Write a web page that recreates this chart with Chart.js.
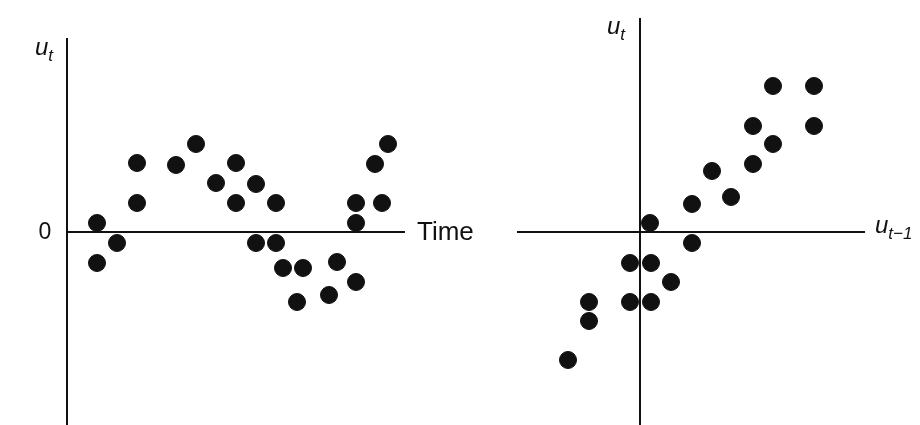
<!DOCTYPE html>
<html>
<head>
<meta charset="utf-8">
<script src="https://cdn.jsdelivr.net/npm/chart.js@4/dist/chart.umd.min.js"></script>
<style>
  html, body { margin: 0; padding: 0; background: #fff; }
  #wrap { position: relative; width: 920px; height: 425px; overflow: hidden; }
  canvas { position: absolute; top: 0; }
</style>
</head>
<body>
<div id="wrap">
  <canvas id="left" width="520" height="425" style="left:0"></canvas>
  <canvas id="right" width="460" height="425" style="left:460px"></canvas>
</div>
<script>
// left panel: residuals against time
const timeIdx = [1, 1, 2, 3, 3, 4.95, 5.95, 6.95, 7.95, 7.95, 8.95, 8.95, 9.95, 9.95, 10.3, 11.3, 11, 12.6, 13, 13.95, 13.95, 13.95, 14.9, 15.25, 15.55];
const residuals = [0.45, -1.55, -0.55, 3.45, 1.45, 3.35, 4.4, 2.45, 3.45, 1.45, 2.4, -0.55, 1.45, -0.55, -1.8, -1.8, -3.5, -3.15, -1.5, 1.45, 0.45, -2.5, 3.4, 1.45, 4.4];

// right panel: u_t against u_{t-1}
const lagged = [6.65, 8.7, 5.65, 8.7, 6.65, 5.65, 3.6, 4.55, 2.6, 0.5, 2.6, -0.5, 0.55, 1.55, -0.5, 0.55, -2.55, -2.55, -3.6];
const current = [7.3, 7.3, 5.3, 5.3, 4.4, 3.4, 3.05, 1.75, 1.4, 0.45, -0.55, -1.55, -1.55, -2.5, -3.5, -3.5, -3.5, -4.45, -6.4];

const ink = '#111';
const labelFont = '"Liberation Sans", Arial, sans-serif';

function drawU(ctx, x, y, sub) {
  ctx.fillStyle = ink;
  ctx.textBaseline = 'alphabetic';
  ctx.textAlign = 'left';
  ctx.font = 'italic 24px ' + labelFont;
  ctx.fillText('u', x, y);
  const w = ctx.measureText('u').width;
  ctx.font = 'italic 17px ' + labelFont;
  ctx.fillText(sub, x + w, y + 6);
}

// draws the two crossing axes at zero plus labels
const axesPlugin = {
  id: 'axes',
  afterDatasetsDraw(chart, args, opts) {
    const { ctx, chartArea } = chart;
    const xs = chart.scales.x, ys = chart.scales.y;
    const x0 = opts.vAxisAt === 'left' ? chartArea.left : xs.getPixelForValue(0);
    const y0 = ys.getPixelForValue(0);
    ctx.save();
    ctx.strokeStyle = ink;
    ctx.lineWidth = 2;
    ctx.beginPath();
    ctx.moveTo(x0, chartArea.top);
    ctx.lineTo(x0, chartArea.bottom);
    ctx.moveTo(chartArea.left, y0);
    ctx.lineTo(chartArea.right, y0);
    ctx.stroke();

    ctx.fillStyle = ink;
    ctx.textBaseline = 'middle';
    if (opts.zeroLabel) {
      ctx.font = '23px ' + labelFont;
      ctx.textAlign = 'center';
      ctx.fillText('0', x0 - 22, y0 + 1);
    }
    if (opts.xTitle === 'Time') {
      ctx.font = '26px ' + labelFont;
      ctx.textAlign = 'left';
      ctx.fillText('Time', chartArea.right + 12, y0 + 1);
    } else if (opts.xTitle) {
      drawU(ctx, chartArea.right + 10, y0 + 1, opts.xTitle);
    }
    drawU(ctx, opts.yTitleX, opts.yTitleY, 't');
    ctx.restore();
  }
};

function makeChart(id, xv, yv, xr, yr, pad, axesOpts) {
  return new Chart(document.getElementById(id), {
    type: 'scatter',
    data: {
      datasets: [{
        data: xv.map((v, i) => ({ x: v, y: yv[i] })),
        backgroundColor: ink,
        borderColor: ink,
        pointRadius: 8.5,
        pointHoverRadius: 8.5
      }]
    },
    options: {
      responsive: false,
      animation: false,
      layout: { padding: pad, autoPadding: false },
      scales: {
        x: { type: 'linear', display: false, min: xr[0], max: xr[1] },
        y: { type: 'linear', display: false, min: yr[0], max: yr[1] }
      },
      plugins: {
        legend: { display: false },
        tooltip: { enabled: false },
        axes: axesOpts
      }
    },
    plugins: [axesPlugin]
  });
}

makeChart('left', timeIdx, residuals, [-0.5, 16.4], [-9.65, 9.7],
  { left: 67, right: 115, top: 38, bottom: 0 },
  { vAxisAt: 'left', zeroLabel: true, xTitle: 'Time', yTitleX: 35, yTitleY: 55 });

makeChart('right', lagged, current, [-6.15, 11.25], [-9.65, 10.7],
  { left: 57, right: 55, top: 18, bottom: 0 },
  { vAxisAt: 'zero', zeroLabel: false, xTitle: 't\u22121', yTitleX: 147, yTitleY: 34 });
</script>
</body>
</html>
